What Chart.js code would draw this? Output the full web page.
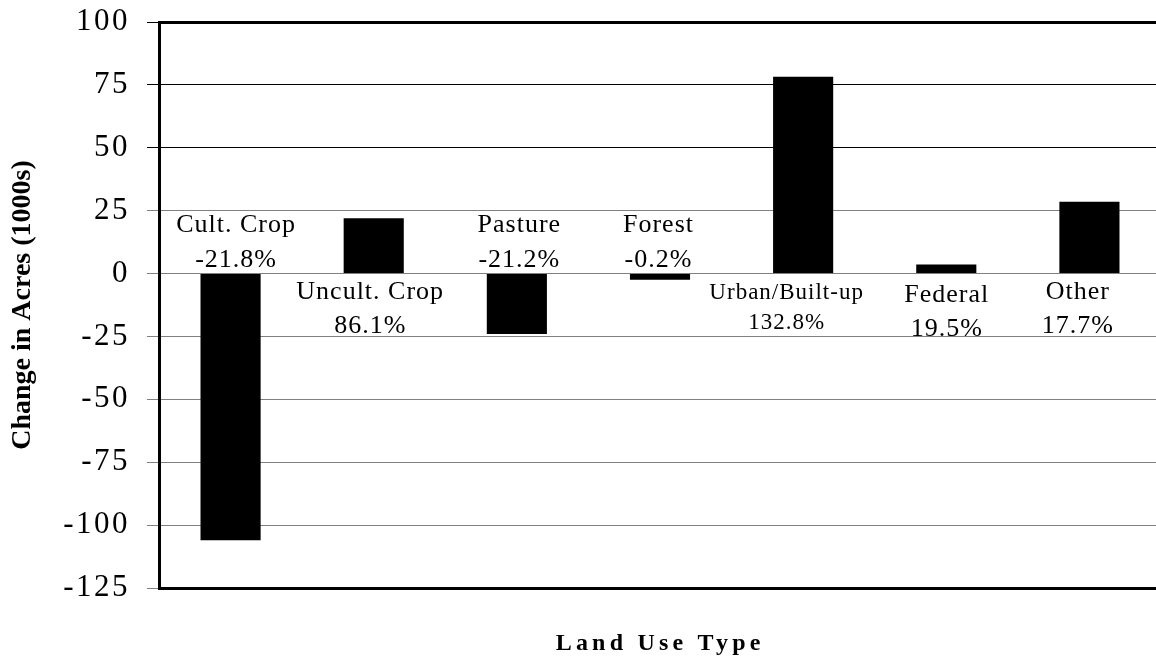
<!DOCTYPE html>
<html>
<head>
<meta charset="utf-8">
<script src="https://cdn.jsdelivr.net/npm/chart.js@4.4.1/dist/chart.umd.min.js"></script>
<style>
  html, body { margin: 0; padding: 0; background: #fff; overflow: hidden; }
  #wrap { width: 1161px; height: 659px; position: relative; }
</style>
</head>
<body>
<div id="wrap"><canvas id="chart" width="1161" height="659"></canvas></div>
<script>
// Land use change, thousands of acres, with percent change per type
const categories = ['Cult. Crop', 'Uncult. Crop', 'Pasture', 'Forest', 'Urban/Built-up', 'Federal', 'Other'];
const changeAcres = [-106, 22, -24, -2.5, 78.2, 3.6, 28.5];
const percentChange = ['-21.8%', '86.1%', '-21.2%', '-0.2%', '132.8%', '19.5%', '17.7%'];
const yMin = -125;
const yMax = 100;
const yStep = 25;

const SERIF = "'Liberation Serif', 'Times New Roman', serif";

// Two-line category / percent labels set on the opposite side of the zero line
const barLabels = {
  id: 'barLabels',
  afterDatasetsDraw(chart, args, opts) {
    const ctx = chart.ctx;
    const meta = chart.getDatasetMeta(0);
    const y0 = chart.scales.y.getPixelForValue(0);
    ctx.save();
    ctx.fillStyle = '#000';
    ctx.textAlign = 'center';
    ctx.textBaseline = 'alphabetic';
    ctx.letterSpacing = '1px';
    meta.data.forEach((bar, i) => {
      const size = opts.sizes[i];
      ctx.font = size + 'px ' + SERIF;
      const gap = size * 1.31;
      const x = bar.x + opts.nudgeX[i] + 0.5;
      let b1, b2;
      if (changeAcres[i] < 0) {
        b2 = y0 - 7;
        b1 = b2 - gap;
      } else {
        b1 = y0 + 25.5 + opts.nudgeY[i];
        b2 = b1 + gap;
      }
      ctx.fillText(categories[i], x, b1);
      ctx.fillText(percentChange[i], x, b2);
    });
    ctx.restore();
  }
};

// Axis titles with their own letter spacing
const axisTitles = {
  id: 'axisTitles',
  beforeDraw(chart) {
    chart.ctx.letterSpacing = '2.5px';
  },
  beforeDatasetsDraw(chart) {
    chart.ctx.letterSpacing = '0px';
  },
  afterDraw(chart) {
    const ctx = chart.ctx;
    const area = chart.chartArea;
    ctx.save();
    ctx.fillStyle = '#000';
    ctx.letterSpacing = '0px';
    ctx.font = 'bold 28px ' + SERIF;
    ctx.textAlign = 'center';
    ctx.textBaseline = 'middle';
    ctx.translate(23, (area.top + area.bottom) / 2);
    ctx.rotate(-Math.PI / 2);
    ctx.fillText('Change in Acres (1000s)', 0, 0);
    ctx.restore();

    ctx.save();
    ctx.fillStyle = '#000';
    ctx.letterSpacing = '4.2px';
    ctx.font = 'bold 24px ' + SERIF;
    ctx.textAlign = 'center';
    ctx.textBaseline = 'alphabetic';
    ctx.fillText('Land Use Type', 658 + 2.1, 650);
    ctx.restore();
  }
};

const gridColor = (c) => (c.tick && c.tick.value >= 50 ? '#000' : '#808080');

new Chart(document.getElementById('chart'), {
  type: 'bar',
  data: {
    labels: categories,
    datasets: [{
      data: changeAcres,
      backgroundColor: '#000',
      borderWidth: 0,
      barPercentage: 0.42,
      categoryPercentage: 1.0
    }]
  },
  options: {
    responsive: false,
    animation: false,
    devicePixelRatio: 1,
    layout: { padding: { top: 22, left: 0, right: 0, bottom: 0 } },
    plugins: {
      legend: { display: false },
      tooltip: { enabled: false },
      barLabels: {
        sizes: [26, 26, 26, 26, 23, 26, 26],
        nudgeX: [5, -4, 2, -2, -17, 0, -12],
        nudgeY: [0, 0, 0, 0, 0, 3, 0]
      }
    },
    scales: {
      x: {
        ticks: { display: false },
        grid: { display: false, drawTicks: false },
        border: { display: true, color: '#000', width: 3 },
        afterFit(scale) {
          scale.height = 71;
          scale.paddingLeft = 0;
          scale.paddingRight = 0;
        }
      },
      y: {
        min: yMin,
        max: yMax,
        ticks: {
          stepSize: yStep,
          color: '#000',
          padding: 17,
          font: { family: SERIF, size: 31 }
        },
        grid: {
          color: gridColor,
          tickColor: gridColor,
          lineWidth: (c) => (c.tick && (c.tick.value === yMax || c.tick.value === yMin) ? 3 : 1),
          tickWidth: 1,
          tickLength: 12
        },
        border: { display: true, color: '#000', width: 3 },
        afterFit(scale) {
          scale.width = 159;
          scale.paddingTop = 0;
          scale.paddingBottom = 0;
        }
      }
    }
  },
  plugins: [barLabels, axisTitles]
});
</script>
</body>
</html>
